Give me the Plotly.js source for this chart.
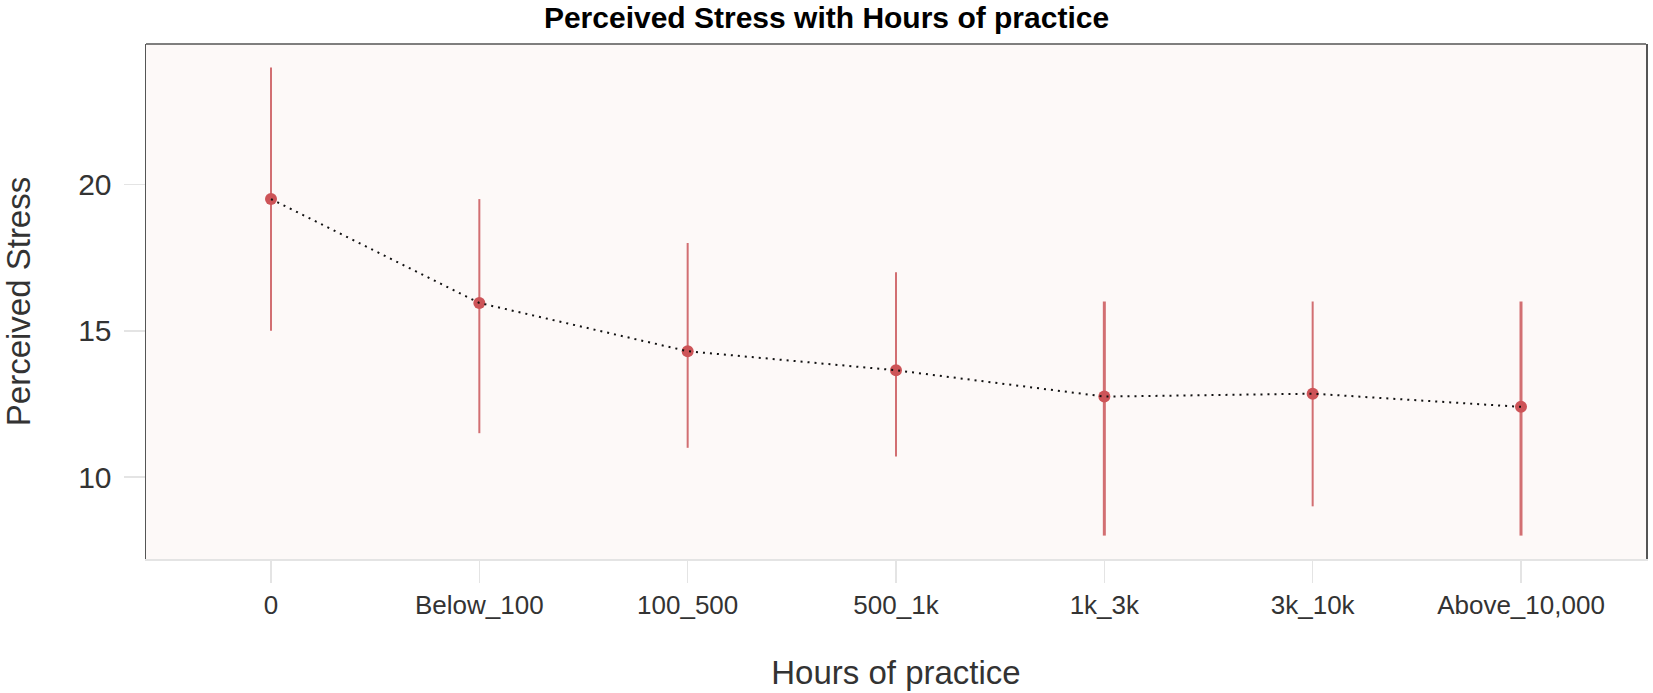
<!DOCTYPE html>
<html>
<head>
<meta charset="utf-8">
<script src="https://cdn.plot.ly/plotly-3.0.1.min.js"></script>
<style>
	html, body { margin: 0; padding: 0; background: #ffffff; }
	#chart { width: 1653px; height: 693px; }
</style>
</head>
<body>
<div id="chart"></div>
<script>
'use strict';

// values
const hours = ['0', 'Below_100', '100_500', '500_1k', '1k_3k', '3k_10k', 'Above_10,000'];
const stressMid = [19.5, 15.95, 14.3, 13.65, 12.75, 12.85, 12.4];
const stressLow = [15, 11.5, 11, 10.7, 8, 9, 8];
const stressHigh = [24, 19.5, 18, 17, 16, 16, 16];
// these bars are drawn darker / heavier in the original
const heavyBars = ['1k_3k', 'Above_10,000'];

document.addEventListener('DOMContentLoaded', function(){

	const barColor = 'rgba(200, 80, 84, 0.82)';
	const pointColor = 'rgb(205, 84, 88)';
	const fontFamily = '"Liberation Sans", Arial, sans-serif';

	function barTrace(keep, thickness)
	{
		const x = [], y = [], up = [], down = [];
		hours.forEach(function(h, i){
			if (keep(h))
			{
				x.push(h);
				y.push(stressMid[i]);
				up.push(stressHigh[i] - stressMid[i]);
				down.push(stressMid[i] - stressLow[i]);
			}
		});
		return {
			x: x, y: y,
			type: 'scatter',
			mode: 'markers',
			marker: {size: 1, opacity: 0},
			error_y: {
				type: 'data', symmetric: false,
				array: up, arrayminus: down,
				color: barColor, thickness: thickness, width: 0
			},
			hoverinfo: 'skip',
			showlegend: false
		};
	}

	const thinBars = barTrace(function(h){ return heavyBars.indexOf(h) < 0; }, 2);
	const thickBars = barTrace(function(h){ return heavyBars.indexOf(h) >= 0; }, 3);

	const points = {
		x: hours, y: stressMid,
		type: 'scatter',
		mode: 'markers',
		marker: {size: 12, color: pointColor},
		showlegend: false
	};

	const trend = {
		x: hours, y: stressMid,
		type: 'scatter',
		mode: 'lines',
		line: {color: '#111111', width: 2, dash: '2px,5px'},
		showlegend: false
	};

	const layout = {
		width: 1653,
		height: 693,
		margin: {l: 146, r: 7, t: 44, b: 134},
		paper_bgcolor: '#ffffff',
		plot_bgcolor: '#fdf9f8',
		font: {family: fontFamily, color: '#333333'},
		title: {
			text: 'Perceived Stress with Hours of practice',
			font: {family: fontFamily, size: 30, color: '#000000', weight: 'bold'},
			x: 0.5, xanchor: 'center',
			y: 0.975, yanchor: 'middle'
		},
		xaxis: {
			type: 'category',
			categoryorder: 'array',
			categoryarray: hours,
			range: [-0.6, 6.6],
			showgrid: false,
			zeroline: false,
			showline: true,
			linecolor: '#e4e4e4',
			linewidth: 2,
			ticks: 'outside',
			ticklen: 22,
			tickwidth: 1.5,
			tickcolor: '#e4e4e4',
			tickfont: {size: 26, color: '#333333'},
			title: {text: 'Hours of practice', font: {size: 33, color: '#333333'}, standoff: 42}
		},
		yaxis: {
			range: [7.2, 24.8],
			tickvals: [10, 15, 20],
			showgrid: false,
			zeroline: false,
			showline: true,
			mirror: true,
			linecolor: '#555555',
			linewidth: 1.5,
			ticks: 'outside',
			ticklen: 21,
			tickwidth: 1.5,
			tickcolor: '#e4e4e4',
			ticklabelstandoff: 6,
			tickfont: {size: 30, color: '#333333'},
			title: {text: 'Perceived Stress', font: {size: 33, color: '#333333'}, standoff: 40}
		},
		shapes: [{
			type: 'line', xref: 'paper', yref: 'paper',
			x0: 0, x1: 1, y0: 1, y1: 1,
			line: {color: '#555555', width: 1.5}
		}]
	};

	// bars first, then points on top, then the dotted trend over them
	Plotly.newPlot('chart', [thinBars, thickBars, points, trend], layout, {displayModeBar: false, staticPlot: true});
});
</script>
</body>
</html>
